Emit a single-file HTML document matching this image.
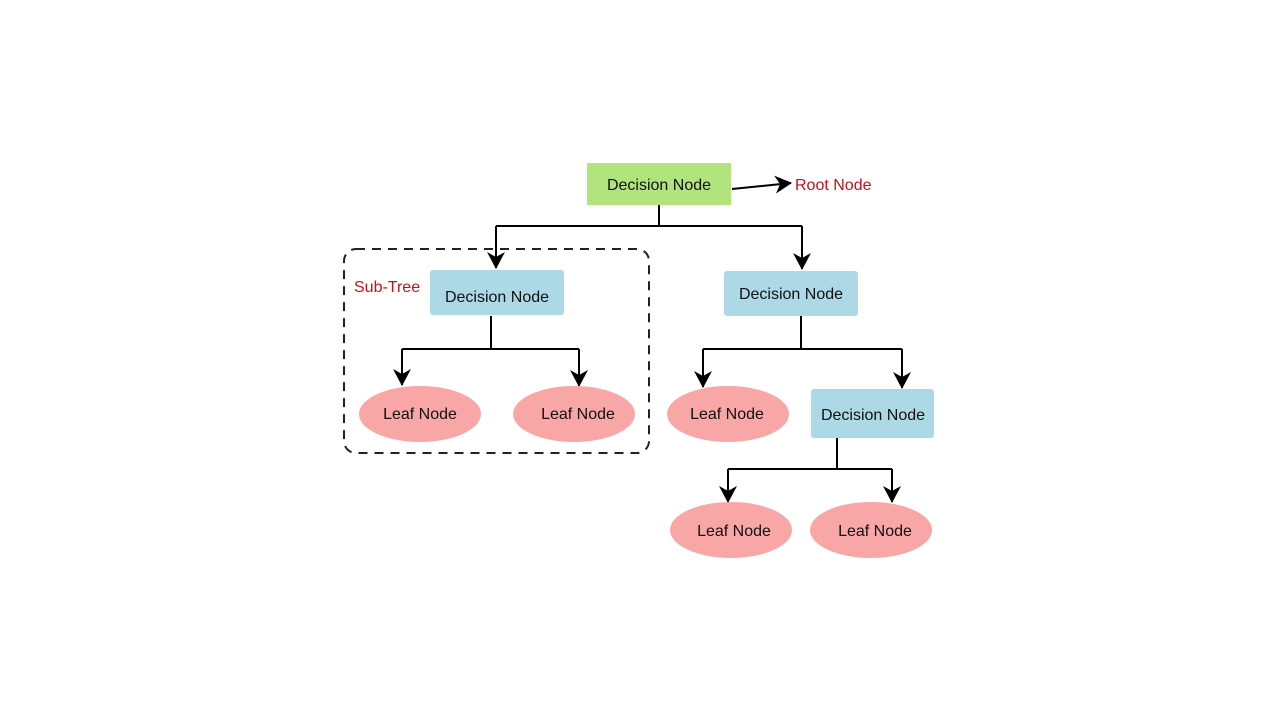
<!DOCTYPE html>
<html><head><meta charset="utf-8"><style>
html,body{margin:0;padding:0;background:#fff;width:1280px;height:720px;overflow:hidden}
svg text{font-family:"Liberation Sans",sans-serif;font-size:16px;fill:#111}
</style></head><body>
<svg width="1280" height="720" viewBox="0 0 1280 720" xmlns="http://www.w3.org/2000/svg">
<defs>
<marker id="b" markerWidth="18" markerHeight="18" refX="16" refY="9" orient="auto" markerUnits="userSpaceOnUse" viewBox="0 0 18 18">
<path d="M0,0 L17,9 L0,18 L5,9 Z" fill="#000"/>
</marker>
</defs>
<rect x="344" y="249" width="305" height="204" rx="12" fill="none" stroke="#222" stroke-width="2" stroke-dasharray="9,7"/>
<g stroke="#000" stroke-width="2" fill="none">
<path d="M659,205 V226 M496,226 H802"/>
<path d="M496,226 V268" marker-end="url(#b)"/>
<path d="M802,226 V269" marker-end="url(#b)"/>
<path d="M491,316 V349 M402,349 H579"/>
<path d="M402,349 V385" marker-end="url(#b)"/>
<path d="M579,349 V386" marker-end="url(#b)"/>
<path d="M801,316 V349 M703,349 H902"/>
<path d="M703,349 V387" marker-end="url(#b)"/>
<path d="M902,349 V388" marker-end="url(#b)"/>
<path d="M837,438 V469 M728,469 H892"/>
<path d="M728,469 V502" marker-end="url(#b)"/>
<path d="M892,469 V502" marker-end="url(#b)"/>
<path d="M732,189 L791,183" marker-end="url(#b)"/>
</g>
<rect x="587" y="163" width="144" height="42" fill="#b1e47d"/>
<text x="659" y="190" text-anchor="middle">Decision Node</text>
<text x="795" y="190" style="fill:#c8101a">Root Node</text>
<rect x="430" y="270" width="134" height="45" rx="3" fill="#add8e6"/>
<text x="497" y="302" text-anchor="middle">Decision Node</text>
<text x="354" y="292" style="fill:#c8101a">Sub-Tree</text>
<rect x="724" y="271" width="134" height="45" rx="3" fill="#add8e6"/>
<text x="791" y="299" text-anchor="middle">Decision Node</text>
<rect x="811" y="389" width="123" height="49" rx="3" fill="#add8e6"/>
<text x="873" y="420" text-anchor="middle">Decision Node</text>
<g fill="#f9a7a6">
<ellipse cx="420" cy="414" rx="61" ry="28"/>
<ellipse cx="574" cy="414" rx="61" ry="28"/>
<ellipse cx="728" cy="414" rx="61" ry="28"/>
<ellipse cx="731" cy="530" rx="61" ry="28"/>
<ellipse cx="871" cy="530" rx="61" ry="28"/>
</g>
<text x="420" y="419" text-anchor="middle">Leaf Node</text>
<text x="578" y="419" text-anchor="middle">Leaf Node</text>
<text x="727" y="419" text-anchor="middle">Leaf Node</text>
<text x="734" y="536" text-anchor="middle">Leaf Node</text>
<text x="875" y="536" text-anchor="middle">Leaf Node</text>
</svg>
</body></html>
